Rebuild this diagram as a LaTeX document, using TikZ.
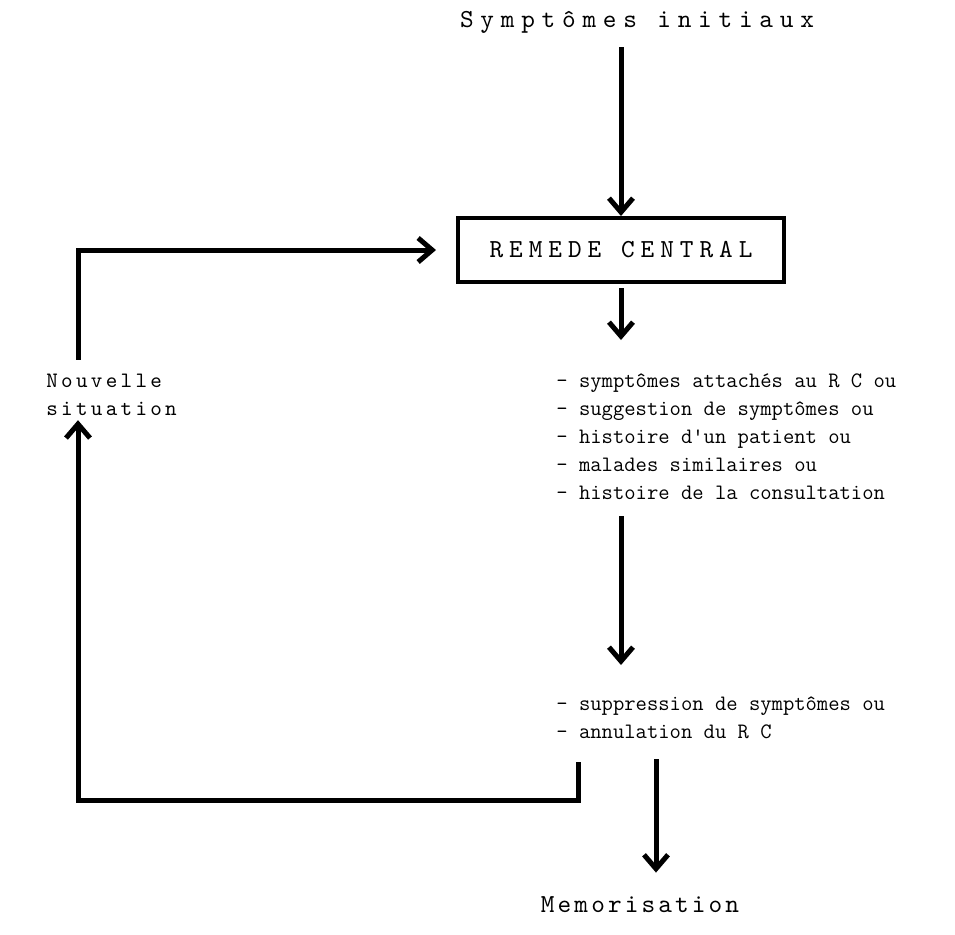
\documentclass[tikz,border=0pt]{standalone}
\usepackage{fontspec}
\usetikzlibrary{arrows.meta}
\newfontfamily\hdfam{lmmono10-regular.otf}[LetterSpace=26]
\newfontfamily\rcfam{lmmono10-regular.otf}[LetterSpace=23]
\newfontfamily\memfam{lmmono10-regular.otf}[LetterSpace=12]
\newfontfamily\nvfam{lmmono10-regular.otf}[LetterSpace=15]
\newcommand{\txtfont}{\ttfamily\fontsize{11}{14}\selectfont}
\newcommand{\hdfont}{\hdfam\fontsize{13}{14}\selectfont}
\newcommand{\rcfont}{\rcfam\fontsize{13}{14}\selectfont}
\newcommand{\memfont}{\memfam\fontsize{13}{14}\selectfont}
\newcommand{\nvfont}{\nvfam\fontsize{11}{14}\selectfont}
\begin{document}
\begin{tikzpicture}[x=0.5pt,y=-0.5pt,
  fleche/.style={line width=2.5pt,-{Straight Barb[length=7pt,width=12pt]},shorten <=2pt},
  ligne/.style={line width=2.5pt,line join=miter},
  texte/.style={inner sep=0pt,align=left}]
\useasboundingbox (0,0) rectangle (955,934);
\node[texte,font=\hdfont] (init) at (637,22) {Symptômes initiaux};
\node[draw,line width=2pt,minimum width=163pt,minimum height=32pt,font=\rcfont] (rc) at (621,250) {REMEDE CENTRAL};
\node[texte,anchor=west,font=\txtfont] (liste) at (556,437) {- symptômes attachés au R C ou\\- suggestion de symptômes ou\\- histoire d'un patient ou\\- malades similaires ou\\- histoire de la consultation};
\node[texte,anchor=west,font=\txtfont] (suppr) at (556,718) {- suppression de symptômes ou\\- annulation du R C};
\node[texte,anchor=west,font=\nvfont] (nouv) at (46,395) {Nouvelle\\situation};
\node[texte,font=\memfont] (memo) at (640,905) {Memorisation};
\coordinate (p1) at (621,340);
\coordinate (p3) at (621,665);
\coordinate (q1) at (578,758);
\coordinate (q2) at (78,800);
\coordinate (m) at (656,755);
\draw[fleche] ([yshift=-5pt]init.south -| rc) -- (rc);
\draw[fleche] (rc) -- (p1);
\draw[fleche] ([yshift=-6pt]liste.south -| rc) -- (p3);
\draw[fleche,ligne] (q1) |- (q2) -- ([yshift=-2pt]nouv.south -| q2);
\draw[fleche,ligne] ([yshift=5pt]nouv.north -| q2) |- ([xshift=-10pt]rc.west);
\draw[fleche] (m) -- ([yshift=12pt]memo.north -| m);
\end{tikzpicture}
\end{document}
